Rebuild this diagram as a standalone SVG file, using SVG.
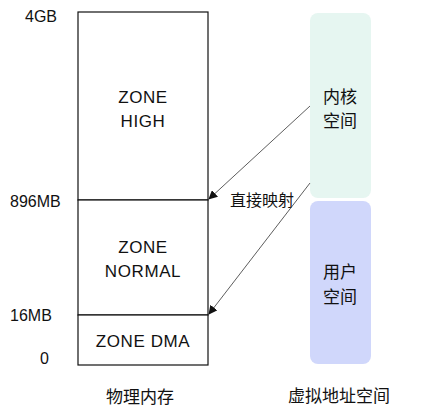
<svg xmlns="http://www.w3.org/2000/svg" width="423" height="415" viewBox="0 0 423 415">
<defs>
<marker id="ah" viewBox="0 0 10 10" refX="9" refY="5" markerWidth="9" markerHeight="9" orient="auto" markerUnits="userSpaceOnUse">
<path d="M0,0 L10,5 L0,10 z" fill="#111"/>
</marker>
</defs>
<style>
text{font-family:"Liberation Sans","Noto Sans CJK SC",sans-serif;font-size:16px;fill:#111;}
.c{text-anchor:middle;}
.z{font-size:17px;letter-spacing:0.6px;}
.cjk{font-size:17px;}
.box{fill:#fff;stroke:#111;stroke-width:1.2;}
.conn{stroke:#333;stroke-width:0.8;fill:none;}
</style>
<rect width="423" height="415" fill="#fff"/>
<g id="labels">
<text x="25" y="22">4GB</text>
<text x="10" y="207">896MB</text>
<text x="10" y="321">16MB</text>
<text x="40" y="364">0</text>
</g>
<g id="zone-high">
<rect class="box" x="78" y="12" width="130" height="188"/>
<text class="c z" x="143" y="103">ZONE</text>
<text class="c z" x="143" y="127">HIGH</text>
</g>
<g id="zone-normal">
<rect class="box" x="78" y="200" width="130" height="115"/>
<text class="c z" x="143" y="253">ZONE</text>
<text class="c z" x="143" y="277">NORMAL</text>
</g>
<g id="zone-dma">
<rect class="box" x="78" y="315" width="130" height="50"/>
<text class="c z" x="143" y="347">ZONE DMA</text>
</g>
<g id="phys-label"><text class="c cjk" x="140" y="403">物理内存</text></g>
<g id="kernel-space">
<rect x="310" y="13" width="61" height="185" rx="8" fill="#e6f6f1"/>
<text class="c cjk" x="340" y="103">内核</text>
<text class="c cjk" x="340" y="127">空间</text>
</g>
<g id="user-space">
<rect x="310" y="201" width="61" height="163" rx="8" fill="#d0d7fb"/>
<text class="c cjk" x="340" y="278">用户</text>
<text class="c cjk" x="340" y="303">空间</text>
</g>
<g id="virt-label"><text class="c cjk" x="339" y="402">虚拟地址空间</text></g>
<g id="connectors">
<line class="conn" x1="310" y1="106" x2="209" y2="199" marker-end="url(#ah)"/>
<line class="conn" x1="310" y1="183" x2="209" y2="314" marker-end="url(#ah)"/>
<text x="230" y="206">直接映射</text>
</g>
</svg>
